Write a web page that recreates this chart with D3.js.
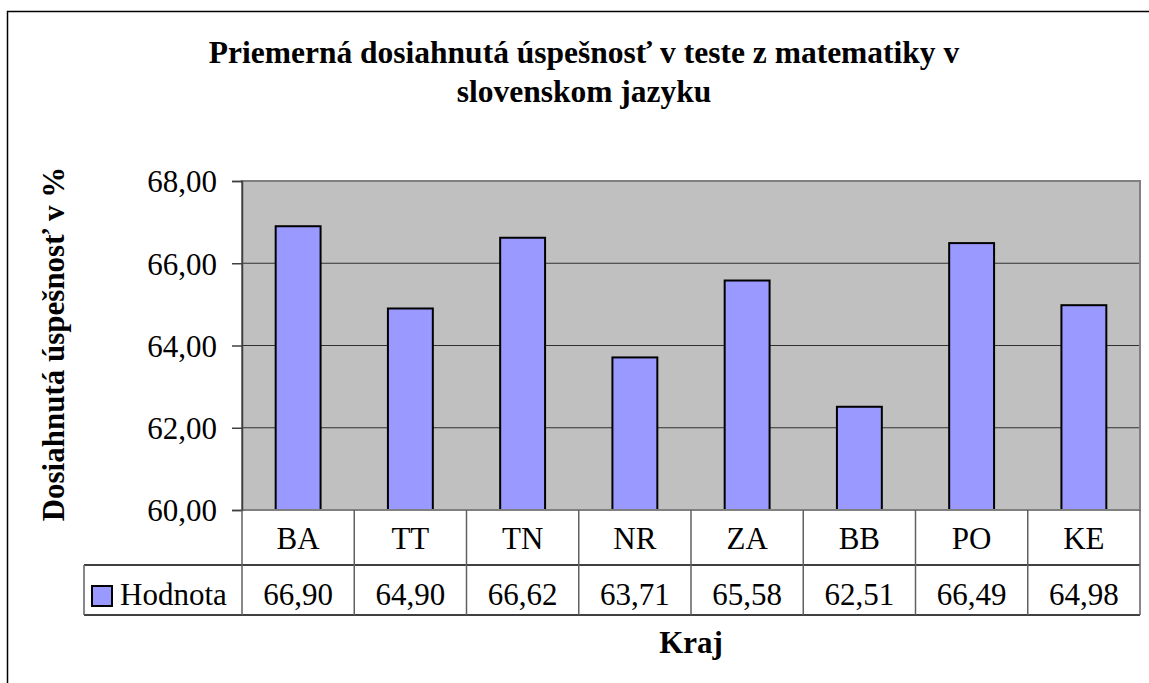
<!DOCTYPE html>
<html>
<head>
<meta charset="utf-8">
<script src="https://cdn.jsdelivr.net/npm/d3@7"></script>
<style>
  html, body { margin: 0; padding: 0; background: #fff; overflow: hidden; }
  svg { display: block; }
  svg text { font-family: "Liberation Serif", "Times New Roman", serif; fill: #000; }
</style>
</head>
<body>
<svg id="chart" width="1149" height="683"></svg>
<script>
// Regions (kraje) and their average success rate
const categories = ["BA", "TT", "TN", "NR", "ZA", "BB", "PO", "KE"];
const values = [66.90, 64.90, 66.62, 63.71, 65.58, 62.51, 66.49, 64.98];
const yTicks = [60, 62, 64, 66, 68];
const seriesName = "Hodnota";
const titleLines = ["Priemerná dosiahnutá úspešnosť v teste z matematiky v", "slovenskom jazyku"];
const yTitle = "Dosiahnutá úspešnosť v %";
const xTitle = "Kraj";

const skLocale = d3.formatLocale({ decimal: ",", thousands: " ", grouping: [3], currency: ["", " €"] });
const fmt = skLocale.format(".2f");

const svg = d3.select("#chart");

// Layout
const plot = { left: 242, right: 1140, top: 181, bottom: 510 };
const catRowBottom = 565, valRowBottom = 615, tableLeft = 84;
const fontSize = 31;

// Outer chart frame
svg.append("rect")
  .attr("x", 7.5).attr("y", 11.5)
  .attr("width", 1300).attr("height", 900)
  .attr("fill", "#fff").attr("stroke", "#000").attr("stroke-width", 1.5);

// Scales
const x = d3.scaleBand().domain(categories)
  .range([plot.left, plot.right]).paddingInner(0.6).paddingOuter(0.3);
const col = d3.scaleBand().domain(categories).range([plot.left, plot.right]);
const y = d3.scaleLinear().domain([60, 68]).range([plot.bottom, plot.top]);

// Plot background
svg.append("rect")
  .attr("x", plot.left).attr("y", plot.top)
  .attr("width", plot.right - plot.left).attr("height", plot.bottom - plot.top)
  .attr("fill", "#C0C0C0");

// Gridlines
svg.append("g").selectAll("line").data(yTicks.filter(t => t > 60 && t < 68)).join("line")
  .attr("x1", plot.left).attr("x2", plot.right)
  .attr("y1", d => y(d)).attr("y2", d => y(d))
  .attr("stroke", "#303030").attr("stroke-width", 1);

// Bars
svg.append("g").selectAll("rect").data(values).join("rect")
  .attr("x", (d, i) => x(categories[i]))
  .attr("y", d => y(d))
  .attr("width", x.bandwidth())
  .attr("height", d => y(60) - y(d))
  .attr("fill", "#9999FF").attr("stroke", "#000").attr("stroke-width", 2);

// Plot area border
svg.append("rect")
  .attr("x", plot.left).attr("y", plot.top)
  .attr("width", plot.right - plot.left).attr("height", plot.bottom - plot.top)
  .attr("fill", "none").attr("stroke", "#808080").attr("stroke-width", 2);

// Y axis
const yAxis = d3.axisLeft(y).tickValues(yTicks).tickFormat(fmt).tickSize(10).tickPadding(15);
const yg = svg.append("g").attr("transform", `translate(${plot.left},0)`).call(yAxis)
  .attr("font-family", null).attr("font-size", null);
yg.select(".domain").attr("stroke", "#404040").attr("stroke-width", 1.5);
yg.selectAll(".tick line").attr("stroke", "#404040").attr("stroke-width", 1.5);
yg.selectAll(".tick text")
  .attr("font-size", fontSize).attr("fill", "#000").attr("dy", "0.35em");

// Data table
const table = svg.append("g");
const hLines = table.append("g").attr("stroke", "#000").attr("stroke-width", 1.5);
const vLines = table.append("g").attr("stroke", "#606060").attr("stroke-width", 1.5);
// horizontal lines
hLines.append("line").attr("x1", tableLeft).attr("x2", plot.right)
  .attr("y1", catRowBottom).attr("y2", catRowBottom);
hLines.append("line").attr("x1", tableLeft).attr("x2", plot.right)
  .attr("y1", valRowBottom).attr("y2", valRowBottom);
// vertical lines
vLines.append("line").attr("x1", tableLeft).attr("x2", tableLeft)
  .attr("y1", catRowBottom).attr("y2", valRowBottom);
vLines.selectAll(".vsep").data(categories).join("line").attr("class", "vsep")
  .attr("x1", d => col(d)).attr("x2", d => col(d))
  .attr("y1", plot.bottom).attr("y2", valRowBottom);
vLines.append("line").attr("x1", plot.right).attr("x2", plot.right)
  .attr("y1", plot.bottom).attr("y2", valRowBottom);

// category labels
table.selectAll(".cat").data(categories).join("text").attr("class", "cat")
  .attr("x", d => col(d) + col.bandwidth() / 2)
  .attr("y", 549)
  .attr("text-anchor", "middle").attr("font-size", fontSize).text(d => d);

// value labels
table.selectAll(".val").data(values).join("text").attr("class", "val")
  .attr("x", (d, i) => col(categories[i]) + col.bandwidth() / 2)
  .attr("y", 605)
  .attr("text-anchor", "middle").attr("font-size", fontSize).text(d => fmt(d));

// legend key + series name
table.append("rect").attr("x", 92).attr("y", 586).attr("width", 20).attr("height", 20)
  .attr("fill", "#9999FF").attr("stroke", "#000").attr("stroke-width", 2);
table.append("text").attr("x", 120).attr("y", 605)
  .attr("font-size", fontSize).text(seriesName);

// Titles
const title = svg.append("text").attr("text-anchor", "middle")
  .attr("font-size", 31.5).attr("font-weight", "bold");
titleLines.forEach((t, i) => {
  title.append("tspan").attr("x", 584).attr("y", 63 + i * 39).text(t);
});

svg.append("text")
  .attr("transform", "translate(64,344) rotate(-90)")
  .attr("text-anchor", "middle").attr("font-size", 31).attr("font-weight", "bold")
  .text(yTitle);

svg.append("text")
  .attr("x", (plot.left + plot.right) / 2).attr("y", 653)
  .attr("text-anchor", "middle").attr("font-size", 31).attr("font-weight", "bold")
  .text(xTitle);
</script>
</body>
</html>
